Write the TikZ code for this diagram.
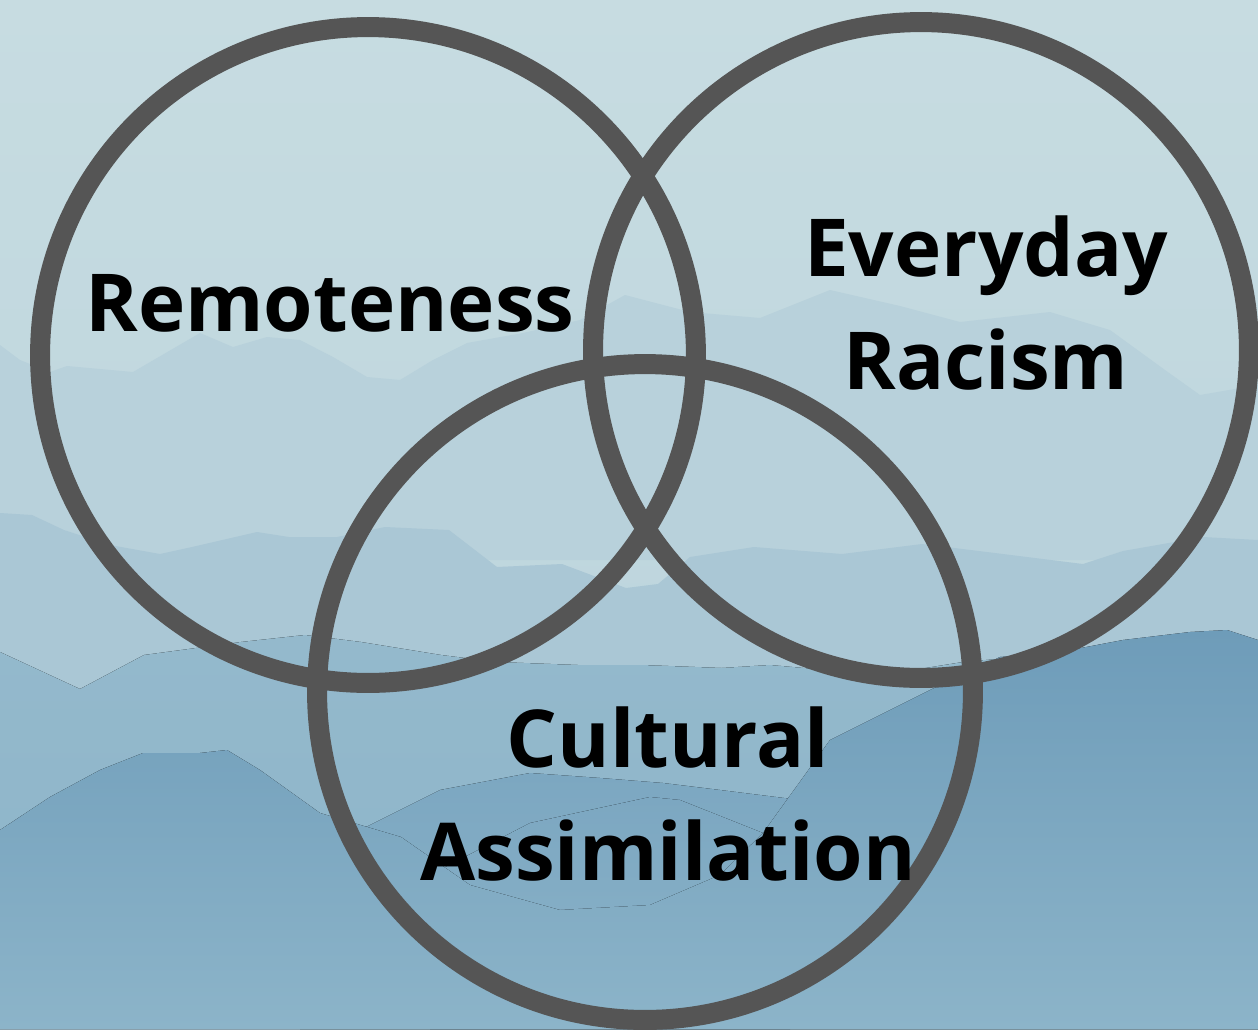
\documentclass[tikz,border=0pt]{standalone}
\usepackage{fontspec}
\setmainfont{Open Sans}
\usepackage{tikz}
\definecolor{VennRing}{HTML}{555555}
\definecolor{SkyTop}{RGB}{199,220,225}
\definecolor{SkyLow}{RGB}{184,210,220}
\definecolor{RidgeFar}{RGB}{184,209,219}
\definecolor{RidgeMid}{RGB}{170,199,213}
\definecolor{RidgeNear}{RGB}{148,185,204}
\definecolor{RidgeDeep}{RGB}{124,167,193}
\definecolor{RidgeFront}{RGB}{110,156,185}
\definecolor{RidgeHaze}{RGB}{140,180,201}

\begin{document}
\begin{tikzpicture}[
    x=0.02cm, y=-0.02cm,
    ring/.style={
      circle, draw=VennRing, line width=0.4cm, minimum size=13.12cm, inner sep=0pt
    },
    venntext/.style={
      align=center, text=black, font=\fontsize{45.5}{64}\selectfont\bfseries
    },
    ridge/.style={draw=none}
  ]
    % sky
    \useasboundingbox (0,0) rectangle (1258,1029);
    \fill[top color=SkyTop, bottom color=SkyLow] (0,0) rectangle (1258,1029);

    % mountain ranges, far to near
    \fill[ridge, RidgeFar] (0,345) -- (20,360) -- (50,372) -- (67,366) -- (133,372) -- (200,333)
      -- (233,347) -- (267,337) -- (300,340) -- (333,357) -- (367,377) -- (400,380) -- (433,360)
      -- (467,343) -- (523,333) -- (580,320) -- (625,295) -- (690,312) -- (760,318) -- (830,290)
      -- (900,306) -- (960,322) -- (1050,312) -- (1110,330) -- (1165,370) -- (1200,395)
      -- (1258,385) -- (1258,560) -- (0,560) -- cycle;
    \fill[ridge, RidgeMid] (0,513) -- (32,515) -- (64,530) -- (110,545) -- (160,554) -- (192,547)
      -- (257,532) -- (289,537) -- (337,537) -- (385,527) -- (449,530) -- (497,567) -- (562,564)
      -- (626,588) -- (658,584) -- (690,557) -- (754,547) -- (842,554) -- (922,544) -- (1003,554)
      -- (1083,564) -- (1123,551) -- (1203,537) -- (1258,540) -- (1258,1029) -- (0,1029) -- cycle;
    \fill[ridge, top color=RidgeNear, bottom color=RidgeHaze] (0,652) -- (80,689) -- (144,655)
      -- (241,642) -- (305,635) -- (361,642) -- (441,655) -- (497,662) -- (578,665) -- (642,665)
      -- (722,668) -- (770,665) -- (882,675) -- (963,662) -- (1100,650) -- (1180,648)
      -- (1258,655) -- (1258,1029) -- (0,1029) -- cycle;
    \fill[ridge, top color=RidgeDeep, bottom color=RidgeHaze] (300,830) -- (360,830) -- (440,790)
      -- (530,773) -- (600,778) -- (663,783) -- (720,790) -- (800,800) -- (900,810)
      -- (1258,830) -- (1258,1029) -- (300,1029) -- cycle;
    \fill[ridge, top color=RidgeDeep, bottom color=RidgeHaze] (430,875) -- (530,823) -- (650,797)
      -- (680,800) -- (763,833) -- (790,820) -- (790,1029) -- (430,1029) -- cycle;
    % nearest mountains, left peak and right massif
    \fill[ridge, top color=RidgeFront, bottom color=RidgeHaze] (0,830) -- (50,797) -- (100,770)
      -- (143,753) -- (200,753) -- (227,750) -- (260,770) -- (320,813) -- (401,837) -- (470,885)
      -- (560,910) -- (650,905) -- (720,875) -- (763,833) -- (830,740) -- (906,702) -- (930,690)
      -- (1000,657) -- (1060,652) -- (1123,640) -- (1190,632) -- (1227,630) -- (1258,640)
      -- (1258,1029) -- (0,1029) -- cycle;

    % circles
    \node[ring] (remote) at (368,355) {};
    \node[ring] (racism) at (921,350) {};
    \node[ring] (assim) at (645,692) {};

    % labels
    \node[venntext] (remotelbl) at (330,303) {Remoteness};
    \node[venntext] (racismlbl) at (986,303) {Everyday\\Racism};
    \node[venntext] (assimlbl) at (668,794) {Cultural\\Assimilation};
  \end{tikzpicture}
\end{document}
